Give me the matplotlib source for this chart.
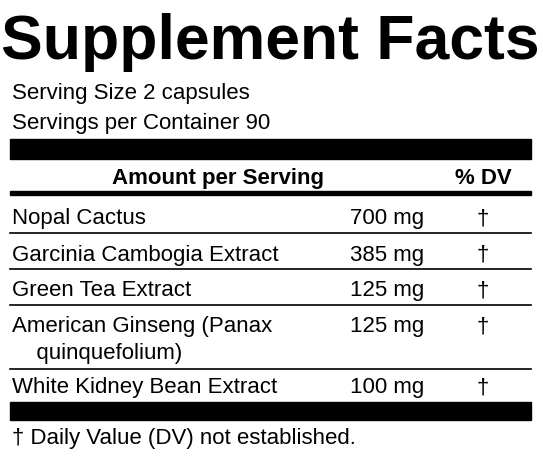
import matplotlib.pyplot as plt
from matplotlib.patches import Rectangle

plt.rcParams['font.family'] = ['Liberation Sans', 'DejaVu Sans']

title = 'Supplement Facts'
serving_lines = ['Serving Size 2 capsules', 'Servings per Container 90']
ingredients = ['Nopal Cactus', 'Garcinia Cambogia Extract', 'Green Tea Extract',
               'American Ginseng (Panax\n    quinquefolium)', 'White Kidney Bean Extract']
amounts = ['700 mg', '385 mg', '125 mg', '125 mg', '100 mg']
dv = ['\u2020'] * 5
footnote = '\u2020 Daily Value (DV) not established.'

# row text positions and separator lines (pixels from top)
row_y = [219, 255, 291, 327, 388]
sep_y = [234, 270, 306, 370]

fs = 16

fig = plt.figure(figsize=(5.43, 4.64), dpi=100)
ax = fig.add_axes([0, 0, 1, 1])
ax.set_xlim(0, 543)
ax.set_ylim(464, 0)
ax.axis('off')

ax.text(270, 42, title, fontsize=45, fontweight='bold', ha='center', va='center')
ax.text(12, 94, serving_lines[0], fontsize=fs, va='center')
ax.text(12, 123, serving_lines[1], fontsize=fs, va='center')

ax.add_patch(Rectangle((10, 140), 521, 20, color='black'))
ax.text(218, 179, 'Amount per Serving', fontsize=fs, fontweight='bold', ha='center', va='center')
ax.text(483, 179, '% DV', fontsize=fs, fontweight='bold', ha='center', va='center')
ax.add_patch(Rectangle((10, 192), 521, 4, color='black'))

for i, (name, amt, d) in enumerate(zip(ingredients, amounts, dv)):
    y = row_y[i]
    if '\n' in name:
        ax.text(12, y - 11, name, fontsize=fs, va='top', linespacing=1.35)
    else:
        ax.text(12, y, name, fontsize=fs, va='center')
    ax.text(350, y, amt, fontsize=fs, va='center')
    ax.text(483, y, d, fontsize=fs, ha='center', va='center')

for y in sep_y:
    ax.plot([10, 531], [y, y], color='black', lw=1.2)

ax.add_patch(Rectangle((10, 403), 521, 18, color='black'))
ax.text(12, 439, footnote, fontsize=fs, va='center')

fig.savefig('out.png', dpi=100)
